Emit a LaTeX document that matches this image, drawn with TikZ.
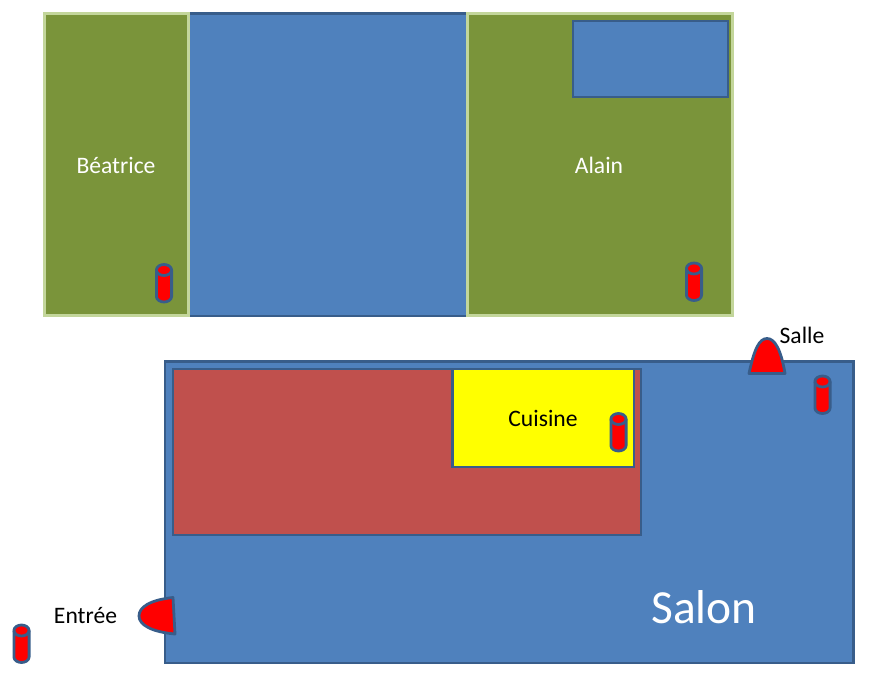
\documentclass[tikz,border=0pt]{standalone}
\usepackage{fontspec}
\setmainfont{Carlito}
\definecolor{bluefill}{HTML}{4F81BD}
\definecolor{blueline}{HTML}{385D8A}
\definecolor{greenfill}{HTML}{7A943A}
\definecolor{greenline}{HTML}{C3D69B}
\definecolor{redfill}{HTML}{C0504D}
\definecolor{purered}{HTML}{FF0000}
\definecolor{pureyellow}{HTML}{FFFF00}
\tikzset{
  bluebox/.style={fill=bluefill,draw=blueline,line width=2.7pt},
  greenbox/.style={fill=greenfill,draw=greenline,line width=3pt},
  redbox/.style={fill=redfill,draw=blueline,line width=2.7pt},
  yellowbox/.style={fill=pureyellow,draw=blueline,line width=2.7pt},
  redshape/.style={fill=purered,draw=blueline,line width=2.8pt,line join=round},
  whitelabel/.style={text=white,font=\fontsize{23.6}{26}\selectfont,inner sep=0pt},
  blacklabel/.style={text=black,font=\fontsize{23.6}{26}\selectfont,inner sep=0pt},
  biglabel/.style={text=white,font=\fontsize{47.5}{52}\selectfont,inner sep=0pt},
  pics/cyl/.style={code={
    \draw[redshape] (-7.6,5.5) arc[x radius=7.6,y radius=5.5,start angle=180,end angle=360]
      -- (7.6,32) arc[x radius=7.6,y radius=5.5,start angle=0,end angle=180] -- cycle;
    \draw[blueline,line width=2.8pt] (-7.6,5.5) arc[x radius=7.6,y radius=5.5,start angle=180,end angle=0];
  }}
}
\begin{document}
\begin{tikzpicture}[x=1pt,y=-1pt]
\useasboundingbox (0,0) rectangle (873,692);
% top block
\draw[bluebox] (188,13.5) rectangle (467,316);
\draw[greenbox] (44,13.5) rectangle (188,316);
\draw[greenbox] (467,13.5) rectangle (732,316);
\draw[bluebox] (573,21) rectangle (728,97);
% bottom block
\draw[bluebox] (165,361.5) rectangle (853.5,663);
\draw[redbox] (173,369) rectangle (641,535);
\draw[yellowbox] (452.5,369) rectangle (634,467);
% doors
\draw[redshape] (749,373.5) .. controls (754,350) and (759,338.5) .. (767,338.5) .. controls (775,338.5) and (781,350) .. (785,373.5) -- cycle;
\draw[redshape] (173,597.5) .. controls (150,600) and (139,607) .. (139,616) .. controls (139,625) and (152,632) .. (175,634) -- cycle;
% cylinders
\pic at (164,264.5) {cyl};
\pic at (694,263) {cyl};
\pic at (618.5,413.5) {cyl};
\pic at (822.5,376) {cyl};
\pic at (21.5,625) {cyl};
% labels
\node[whitelabel] (beatrice) at (116,165.5) {Béatrice};
\node[whitelabel] (alain) at (599,165.5) {Alain};
\node[blacklabel] (cuisine) at (543,418.5) {Cuisine};
\node[blacklabel] (salle) at (802,335.5) {Salle};
\node[blacklabel] (entree) at (85.5,616) {Entrée};
\node[biglabel] (salon) at (704,607) {Salon};
\end{tikzpicture}
\end{document}
